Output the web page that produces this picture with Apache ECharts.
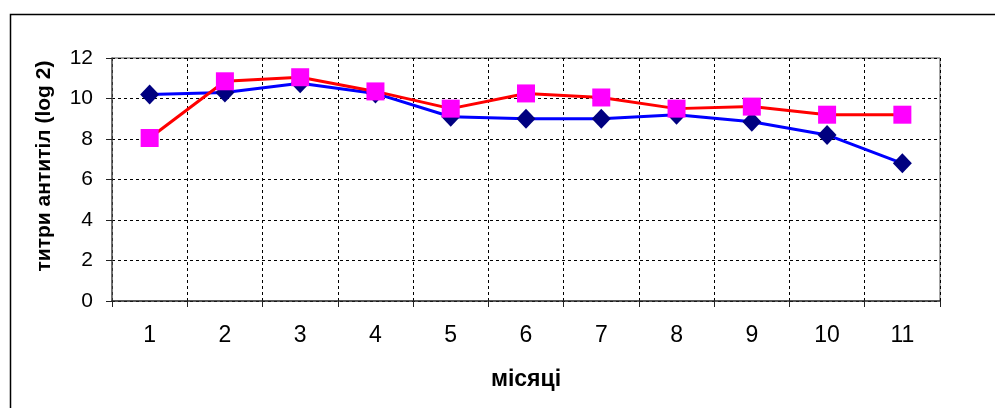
<!DOCTYPE html>
<html><head><meta charset="utf-8">
<script src="https://cdn.jsdelivr.net/npm/echarts@6/dist/echarts.min.js"></script>
<style>html,body{margin:0;padding:0;background:#fff}#c{width:995px;height:408px}</style>
</head><body><div id="c"></div>
<script>
var categories = ['1','2','3','4','5','6','7','8','9','10','11'];
var seriesBlue = [10.2, 10.3, 10.75, 10.25, 9.1, 9.0, 9.0, 9.2, 8.85, 8.2, 6.8];
var seriesRed = [8.05, 10.85, 11.05, 10.35, 9.5, 10.25, 10.05, 9.5, 9.6, 9.2, 9.2];
var yTicks = [0, 2, 4, 6, 8, 10, 12];
var xTitle = 'місяці';
var yTitle = 'титри антитіл (log 2)';

var chart = echarts.init(document.getElementById('c'), null, {renderer:'canvas'});
var font = 'Liberation Sans, Arial, sans-serif';
chart.setOption({
  animation:false,
  backgroundColor:'#fff',
  graphic:[
    {type:'rect', left:8, top:12, shape:{x:0,y:0,width:1000,height:420}, style:{fill:'none', stroke:'#000', lineWidth:1.5}, z:-10},
    {type:'line', shape:{x1:112,y1:58,x2:940,y2:58}, style:{stroke:'#888', lineWidth:1.5}, z:-5},
    {type:'line', shape:{x1:940,y1:58,x2:940,y2:301}, style:{stroke:'#888', lineWidth:1.5}, z:-5},
    {type:'text', x:44, y:166, rotation:Math.PI/2,
      style:{text:yTitle, fontFamily:font, fontSize:21, fontWeight:'bold', fill:'#000', align:'center', verticalAlign:'middle'}}
  ],
  grid:{left:112, right:55, top:58, bottom:107, containLabel:false},
  xAxis:{
    type:'category', data:categories, boundaryGap:true,
    axisLine:{lineStyle:{color:'#222', width:1.5}},
    axisTick:{show:true, alignWithLabel:false, length:6, lineStyle:{color:'#222'}},
    axisLabel:{fontFamily:font, fontSize:23, color:'#000', margin:23},
    splitLine:{show:true, lineStyle:{color:'#000', type:[3,3], width:1}},
    name:xTitle, nameLocation:'middle', nameGap:67,
    nameTextStyle:{fontFamily:font, fontSize:23, fontWeight:'bold', color:'#000'}
  },
  yAxis:{
    type:'value', min:0, max:12, interval:2,
    axisLine:{show:true, lineStyle:{color:'#444', width:1.5}},
    axisTick:{show:true, length:6, lineStyle:{color:'#222'}},
    axisLabel:{fontFamily:font, fontSize:21, color:'#000', margin:19,
      formatter:function(v){return yTicks.indexOf(v)>=0? String(v):'';}},
    splitLine:{show:true, lineStyle:{color:'#000', type:[3,3], width:1}}
  },
  series:[
    {type:'line', data:seriesBlue, symbol:'diamond', symbolSize:[19,20],
      lineStyle:{color:'#0000FF', width:3}, itemStyle:{color:'#000080'}, z:2},
    {type:'line', data:seriesRed, symbol:'rect', symbolSize:[18,18],
      lineStyle:{color:'#FF0000', width:3}, itemStyle:{color:'#FF00FF'}, z:3}
  ]
});
</script></body></html>
